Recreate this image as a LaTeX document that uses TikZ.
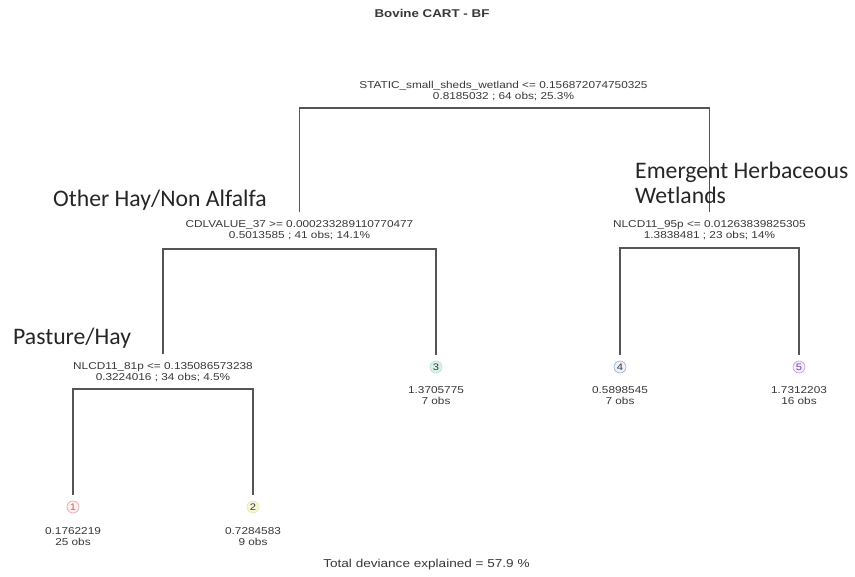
\documentclass[tikz,border=0pt]{standalone}
\usepackage{fontspec}
\newfontfamily\treefont{Liberation Sans}[FakeStretch=1.18]
\newfontfamily\notefont{Carlito}
\definecolor{edgecol}{HTML}{555555}
\definecolor{txtcol}{HTML}{383838}
\definecolor{notecol}{HTML}{262626}
\definecolor{c1}{HTML}{E05A5A}
\definecolor{c2}{HTML}{C8C830}
\definecolor{c3}{HTML}{3CB878}
\definecolor{c4}{HTML}{4A78C0}
\definecolor{c5}{HTML}{A050D0}
\tikzset{
  edge/.style={draw=edgecol, line width=1.3pt},
  splitnode/.style={align=center, inner sep=0pt, outer sep=8pt, text=txtcol,
    font=\treefont\fontsize{10}{11}\selectfont},
  leafnum/.style={circle, minimum size=12pt, inner sep=0pt, outer sep=6pt,
    line width=0.6pt, font=\treefont\fontsize{9.5}{10}\selectfont},
  leafval/.style={align=center, inner sep=0pt, text=txtcol,
    font=\treefont\fontsize{10}{11}\selectfont},
  note/.style={anchor=base west, inner sep=0pt, text=notecol,
    font=\notefont\fontsize{23.7}{26}\selectfont},
}
\begin{document}
\begin{tikzpicture}[x=1pt,y=-1pt]
\useasboundingbox[fill=white] (0,0) rectangle (855,577);
% title
\node[inner sep=0pt, text=txtcol, font=\treefont\bfseries\fontsize{11.3}{12}\selectfont] (title) at (432,13) {Bovine CART - BF};
% split nodes
\node[splitnode] (root) at (503.5,91) {STATIC\_small\_sheds\_wetland <= 0.156872074750325\\0.8185032 ; 64 obs; 25.3\%};
\node[splitnode] (cdl) at (299.5,230) {CDLVALUE\_37 >= 0.000233289110770477\\0.5013585 ; 41 obs; 14.1\%};
\node[splitnode] (n95) at (709.5,230) {NLCD11\_95p <= 0.01263839825305\\1.3838481 ; 23 obs; 14\%};
\node[splitnode] (n81) at (163,372) {NLCD11\_81p <= 0.135086573238\\0.3224016 ; 34 obs; 4.5\%};
% leaves
\node[leafnum, draw=c1!60, fill=c1!8, text=c1] (l1) at (73,507) {1};
\node[leafnum, draw=c2!40, fill=c2!18, text=txtcol] (l2) at (253,507) {2};
\node[leafnum, draw=c3!40, fill=c3!18, text=txtcol] (l3) at (436,367) {3};
\node[leafnum, draw=c4!60, fill=c4!10, text=txtcol] (l4) at (620,367) {4};
\node[leafnum, draw=c5!60, fill=c5!10, text=c5!80!black] (l5) at (799,367) {5};
\node[leafval] (v1) at (73,536.5) {0.1762219\\25 obs};
\node[leafval] (v2) at (253,536.5) {0.7284583\\9 obs};
\node[leafval] (v3) at (436,395.5) {1.3705775\\7 obs};
\node[leafval] (v4) at (620,395.5) {0.5898545\\7 obs};
\node[leafval] (v5) at (799,395.5) {1.7312203\\16 obs};
% bar levels
\coordinate (b0) at (503.5,108);
\coordinate (b1) at (299.5,249);
\coordinate (b2) at (709.5,248);
\coordinate (b3) at (163,389);
% edges
\draw[edge] (cdl.north) -- (cdl.north |- b0) -- (n95.north |- b0) -- (n95.north);
\draw[edge] (n81.north) -- (n81.north |- b1) -- (l3.north |- b1) -- (l3.north);
\draw[edge] (l4.north) -- (l4.north |- b2) -- (l5.north |- b2) -- (l5.north);
\draw[edge] (l1.north) -- (l1.north |- b3) -- (l2.north |- b3) -- (l2.north);
% footer
\node[inner sep=0pt, text=txtcol, font=\treefont\fontsize{11.5}{12}\selectfont] (foot) at (426.5,565) {Total deviance explained = 57.9 \%};
% annotations
\node[note] (a1) at (53,207) {Other Hay/Non Alfalfa};
\node[note] (a2) at (635,179) {Emergent Herbaceous};
\node[note] (a3) at (635,204) {Wetlands};
\node[note] (a4) at (13,345) {Pasture/Hay};
\end{tikzpicture}
\end{document}
